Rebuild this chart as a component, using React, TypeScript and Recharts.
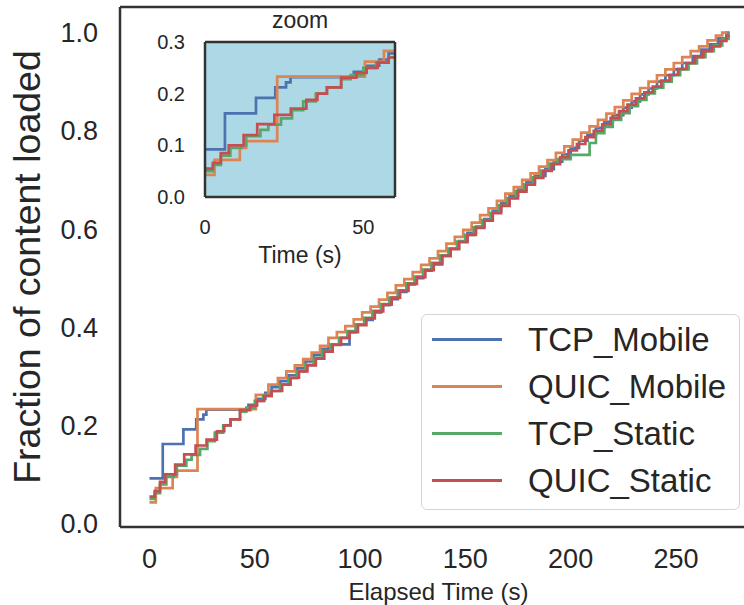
import { CartesianGrid, Line, LineChart, XAxis, YAxis } from "recharts";

const FONT = "Arial, 'Liberation Sans', Helvetica, sans-serif";
const TEXT = "#262626";
const FRAME = "#333333";

const SERIES_NAMES = ["TCP_Mobile", "QUIC_Mobile", "TCP_Static", "QUIC_Static"];
const SERIES_COLORS = ["#4c72b0", "#dd8452", "#55a868", "#c44e52"];

// [elapsed time (s), fraction loaded] step points
const TCP_MOBILE: [number, number][] = [
  [0, 0.092], [6.3, 0.162], [16.1, 0.192], [22.2, 0.212], [25.6, 0.222], [27, 0.232],
  [47, 0.242], [51, 0.254], [55, 0.266], [58, 0.278], [62, 0.29], [66, 0.302],
  [70, 0.316], [74, 0.33], [78, 0.343], [82, 0.356], [85, 0.365], [95, 0.39],
  [98, 0.405], [102, 0.415], [106, 0.43], [110, 0.445], [114, 0.457], [118, 0.472],
  [122, 0.487], [126, 0.5], [130, 0.515], [134, 0.528], [139, 0.545], [143, 0.56],
  [147, 0.575], [151, 0.592], [155, 0.605], [159, 0.62], [163, 0.637], [167, 0.652],
  [171, 0.668], [175, 0.68], [179, 0.695], [183, 0.708], [188, 0.722], [192, 0.737],
  [196, 0.752], [200, 0.765], [204, 0.78], [208, 0.792], [212, 0.806], [216, 0.818],
  [220, 0.832], [225, 0.847], [229, 0.86], [233, 0.874], [237, 0.886], [241, 0.9],
  [245, 0.913], [249, 0.925], [253, 0.938], [258, 0.952], [262, 0.965], [266, 0.976],
  [270, 0.988], [274, 1.0], [275.5, 1.0],
];

const QUIC_MOBILE: [number, number][] = [
  [0, 0.043], [3, 0.072], [11, 0.095], [13, 0.108], [22.8, 0.233], [50.5, 0.262],
  [56.5, 0.283], [61, 0.296], [65, 0.31], [69, 0.322], [73, 0.335], [77, 0.348],
  [81, 0.362], [85, 0.378], [89, 0.39], [93, 0.402], [97, 0.416], [101, 0.43],
  [105, 0.442], [109, 0.456], [113, 0.47], [117, 0.485], [121, 0.498], [125, 0.512],
  [129, 0.527], [133, 0.54], [137, 0.555], [141, 0.57], [145, 0.584], [149, 0.598],
  [153, 0.613], [157, 0.628], [161, 0.642], [165, 0.657], [169, 0.672], [173, 0.685],
  [177, 0.7], [181, 0.713], [185, 0.727], [189, 0.74], [193, 0.755], [197, 0.768],
  [201, 0.782], [205, 0.796], [209, 0.809], [213, 0.822], [217, 0.835], [221, 0.848],
  [225, 0.862], [229, 0.875], [233, 0.887], [237, 0.9], [241, 0.913], [245, 0.925],
  [249, 0.938], [253, 0.95], [257, 0.962], [261, 0.972], [265, 0.984], [269, 0.994],
  [272, 1.0], [274.5, 1.0],
];

const TCP_STATIC: [number, number][] = [
  [0, 0.05], [2.5, 0.062], [5, 0.08], [8, 0.095], [11.5, 0.1], [13, 0.118],
  [17.5, 0.13], [20, 0.14], [24, 0.152], [27.5, 0.168], [31, 0.185], [35, 0.2],
  [38.5, 0.212], [43, 0.228], [46, 0.236], [50, 0.25], [54, 0.26], [58, 0.27],
  [62, 0.283], [66, 0.296], [70, 0.31], [74, 0.323], [78, 0.337], [82, 0.351],
  [86, 0.365], [90, 0.378], [94, 0.392], [98, 0.405], [102, 0.419], [106, 0.433],
  [110, 0.447], [114, 0.46], [118, 0.475], [122, 0.489], [126, 0.503], [130, 0.517],
  [134, 0.531], [138, 0.546], [142, 0.56], [146, 0.574], [150, 0.588], [154, 0.603],
  [158, 0.618], [162, 0.633], [166, 0.648], [170, 0.663], [174, 0.677], [178, 0.691],
  [182, 0.705], [186, 0.719], [190, 0.733], [194, 0.742], [200, 0.751], [209, 0.775],
  [212, 0.795], [216, 0.808], [220, 0.822], [224, 0.836], [228, 0.85], [232, 0.863],
  [236, 0.876], [240, 0.888], [244, 0.9], [248, 0.913], [252, 0.925], [256, 0.937],
  [260, 0.95], [264, 0.962], [268, 0.974], [272, 0.987], [275, 0.997], [275.5, 0.997],
];

const QUIC_STATIC: [number, number][] = [
  [0, 0.055], [2.5, 0.066], [5, 0.085], [7.5, 0.1], [12.2, 0.12], [16.5, 0.141],
  [21.9, 0.159], [27.1, 0.171], [32, 0.188], [35.5, 0.2], [38.5, 0.212], [43, 0.231],
  [47.8, 0.24], [51, 0.25], [54.5, 0.26], [58, 0.27], [63, 0.283], [67, 0.297],
  [71, 0.31], [75, 0.322], [79, 0.336], [83, 0.35], [87, 0.364], [91, 0.378],
  [95, 0.39], [99, 0.404], [103, 0.418], [107, 0.432], [111, 0.446], [115, 0.46],
  [119, 0.474], [123, 0.488], [127, 0.502], [131, 0.516], [135, 0.53], [139, 0.545],
  [143, 0.559], [147, 0.573], [151, 0.588], [155, 0.602], [159, 0.617], [163, 0.632],
  [167, 0.647], [171, 0.662], [175, 0.676], [179, 0.69], [183, 0.704], [187, 0.718],
  [191, 0.732], [195, 0.746], [199, 0.76], [203, 0.773], [207, 0.787], [211, 0.8],
  [215, 0.813], [219, 0.826], [223, 0.84], [227, 0.853], [231, 0.866], [235, 0.878],
  [239, 0.89], [243, 0.902], [247, 0.914], [251, 0.926], [255, 0.938], [259, 0.95],
  [263, 0.962], [267, 0.972], [271, 0.983], [274, 0.993], [275.5, 0.993],
];

const SERIES_POINTS = [TCP_MOBILE, QUIC_MOBILE, TCP_STATIC, QUIC_STATIC];

const MAIN_X_TICKS = [0, 50, 100, 150, 200, 250];
const MAIN_Y_TICKS = [0, 0.2, 0.4, 0.6, 0.8, 1.0];
const ZOOM_X_TICKS = [0, 50];
const ZOOM_Y_TICKS = [0, 0.1, 0.2, 0.3];

const series = SERIES_NAMES.map((name, i) => ({
  name,
  color: SERIES_COLORS[i],
  rows: SERIES_POINTS[i].map(([t, v]) => ({ t, v })),
}));

const frameLine = { stroke: FRAME, strokeWidth: 2.5 };

function YTitle({ viewBox }: any) {
  const cy = viewBox.y + viewBox.height / 2;
  const cx = 27;
  return (
    <text
      x={cx}
      y={cy}
      transform={`rotate(-90, ${cx}, ${cy})`}
      textAnchor="middle"
      dominantBaseline="central"
      fontSize={37.5}
      fill={TEXT}
      fontFamily={FONT}
    >
      Fraction of content loaded
    </text>
  );
}

function Lines({ width }: { width: number }) {
  return series.map((s) => (
    <Line
      key={s.name}
      data={s.rows}
      dataKey="v"
      name={s.name}
      type="stepAfter"
      stroke={s.color}
      strokeWidth={width}
      dot={false}
      activeDot={false}
      isAnimationActive={false}
    />
  ));
}

export default function App() {
  return (
    <div
      style={{
        position: "absolute",
        left: 0,
        top: 0,
        width: 744,
        height: 605,
        overflow: "hidden",
        background: "#fff",
        fontFamily: FONT,
      }}
    >
      {/* main plot; the right frame edge falls just outside the picture */}
      <LineChart width={758} height={605} margin={{ top: 6, right: 0, bottom: 0, left: 0 }}>
        <XAxis
          dataKey="t"
          type="number"
          domain={[-14, 288.5]}
          ticks={MAIN_X_TICKS}
          height={78}
          tickSize={0}
          tickMargin={22}
          tickLine={false}
          axisLine={frameLine}
          tick={{ fontSize: 27, fill: TEXT, fontFamily: FONT }}
          label={{
            value: "Elapsed Time (s)",
            position: "insideBottom",
            offset: 5,
            fontSize: 24,
            fill: TEXT,
            fontFamily: FONT,
          }}
        />
        <XAxis xAxisId="top" orientation="top" dataKey="t" type="number" domain={[-14, 288.5]} height={1} tick={false} tickLine={false} axisLine={frameLine} />
        <YAxis
          type="number"
          domain={[-0.007, 1.052]}
          ticks={MAIN_Y_TICKS}
          tickFormatter={(v: number) => v.toFixed(1)}
          width={120}
          tickSize={0}
          tickMargin={22}
          tickLine={false}
          axisLine={frameLine}
          tick={{ fontSize: 27, fill: TEXT, fontFamily: FONT }}
          label={<YTitle />}
        />
        <YAxis yAxisId="right" orientation="right" type="number" domain={[-0.007, 1.052]} width={1} tick={false} tickLine={false} axisLine={frameLine} />
        {Lines({ width: 2.7 })}
      </LineChart>

      {/* zoom inset */}
      <div style={{ position: "absolute", left: 0, top: 0 }}>
        <LineChart width={420} height={280} margin={{ top: 41, right: 24, bottom: 0, left: 0 }}>
          <CartesianGrid fill="#add8e6" horizontal={false} vertical={false} />
          <XAxis
            dataKey="t"
            type="number"
            domain={[0, 60]}
            allowDataOverflow
            ticks={ZOOM_X_TICKS}
            height={83}
            tickSize={0}
            tickMargin={23}
            tickLine={false}
            axisLine={frameLine}
            tick={{ fontSize: 20, fill: TEXT, fontFamily: FONT }}
            label={{
              value: "Time (s)",
              position: "insideBottom",
              offset: 17,
              fontSize: 23,
              fill: TEXT,
              fontFamily: FONT,
            }}
          />
          <XAxis
            xAxisId="top"
            orientation="top"
            dataKey="t"
            type="number"
            domain={[0, 60]}
            allowDataOverflow
            height={1}
            tick={false}
            tickLine={false}
            axisLine={frameLine}
            label={{ value: "zoom", position: "top", offset: 13, fontSize: 23, fill: TEXT, fontFamily: FONT }}
          />
          <YAxis
            type="number"
            domain={[0, 0.3]}
            allowDataOverflow
            ticks={ZOOM_Y_TICKS}
            tickFormatter={(v: number) => v.toFixed(1)}
            width={205}
            tickSize={0}
            tickMargin={20}
            tickLine={false}
            axisLine={frameLine}
            tick={{ fontSize: 20, fill: TEXT, fontFamily: FONT }}
          />
          <YAxis yAxisId="right" orientation="right" type="number" domain={[0, 0.3]} allowDataOverflow width={1} tick={false} tickLine={false} axisLine={frameLine} />
          {Lines({ width: 2.7 })}
        </LineChart>
      </div>

      {/* legend */}
      <div
        style={{
          position: "absolute",
          left: 421,
          top: 314,
          width: 319,
          height: 196,
          boxSizing: "border-box",
          border: "1.5px solid #d4d4d4",
          borderRadius: 6,
          background: "rgba(255,255,255,0.8)",
          paddingTop: 1,
          paddingLeft: 10,
        }}
      >
        {series.map((s) => (
          <div key={s.name} style={{ display: "flex", alignItems: "center", height: 47 }}>
            <span style={{ display: "inline-block", width: 70, height: 2.5, background: s.color }} />
            <span style={{ marginLeft: 26, fontSize: 33, color: TEXT, lineHeight: "47px" }}>{s.name}</span>
          </div>
        ))}
      </div>
    </div>
  );
}
